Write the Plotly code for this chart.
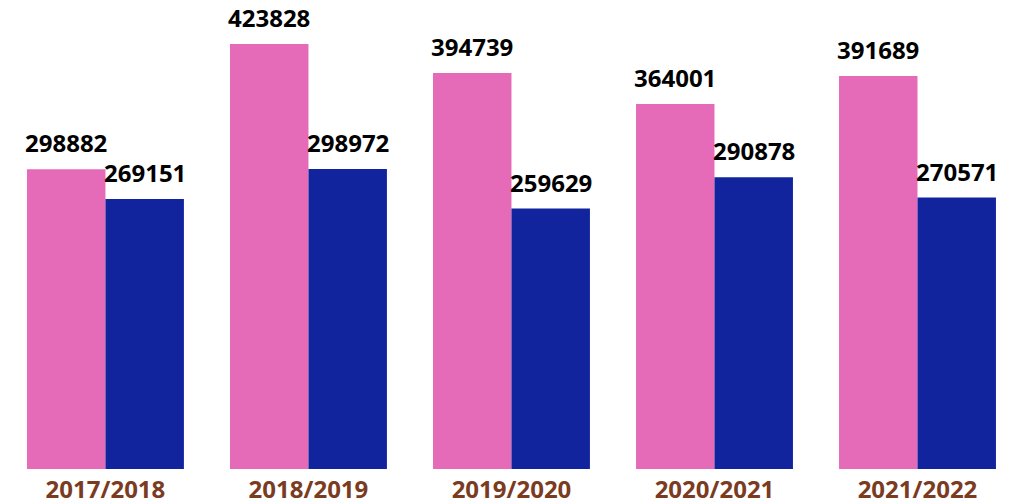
import plotly.graph_objects as go

categories = ["2017/2018", "2018/2019", "2019/2020", "2020/2021", "2021/2022"]
series_a = [298882, 423828, 394739, 364001, 391689]
series_b = [269151, 298972, 259629, 290878, 270571]

pink = "#E56BB8"
blue = "#12239E"
brown = "#7A3B1F"
font_family = "Open Sans, Noto Sans, sans-serif"

bargap = 0.227
half = (1 - bargap) / 4  # offset of each bar centre from the category centre

fig = go.Figure()
for vals, col in [(series_a, pink), (series_b, blue)]:
    fig.add_trace(go.Bar(
        x=categories, y=vals, marker=dict(color=col, line=dict(width=0)),
        cliponaxis=False, hoverinfo="x+y",
    ))

for i, (a, b) in enumerate(zip(series_a, series_b)):
    for off, v in [(-half, a), (half, b)]:
        fig.add_annotation(
            x=i + off, y=v, xref="x", yref="y", text=str(v), showarrow=False,
            yanchor="bottom", xanchor="center", yshift=8,
            font=dict(family=font_family, size=24, color="#000000", weight="bold"),
        )

fig.update_layout(
    width=1019, height=496,
    margin=dict(l=0, r=8, t=0, b=35, autoexpand=False),
    barmode="group", bargap=bargap, bargroupgap=0,
    showlegend=False,
    plot_bgcolor="white", paper_bgcolor="white",
)
fig.update_xaxes(
    type="category", range=[-0.48, 4.5], showgrid=False, showline=False,
    zeroline=False, ticks="", automargin=False, ticklabelstandoff=4,
    tickfont=dict(family=font_family, size=24, color=brown, weight="bold"),
)
fig.update_yaxes(range=[0, 459600], visible=False, showgrid=False)

fig.write_html("out.html")
